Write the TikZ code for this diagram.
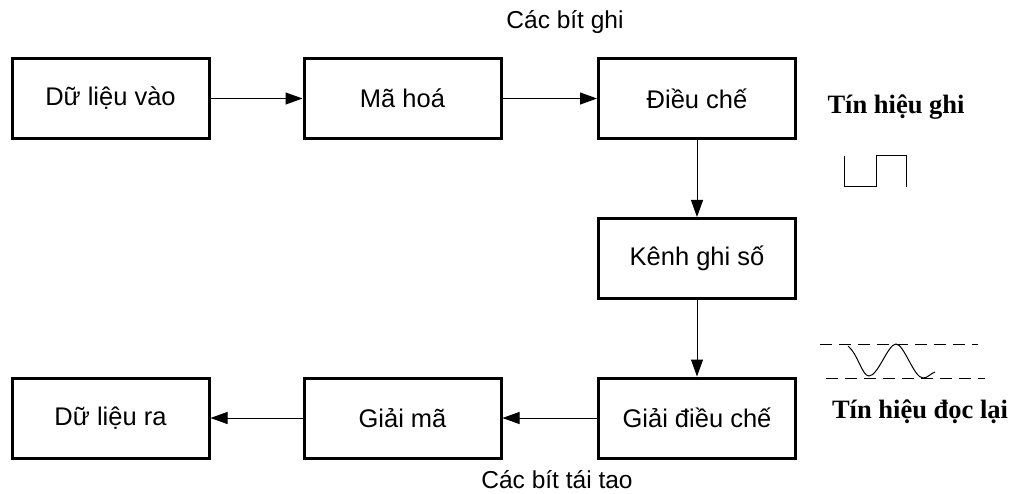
\documentclass[tikz,border=0pt]{standalone}
\usepackage{fontspec}
\setmainfont{Liberation Sans}
\newfontfamily\serifb{Liberation Serif}
\usetikzlibrary{arrows.meta}
\tikzset{
  khoi/.style={draw,line width=3pt,minimum width=197pt,minimum height=80pt,font=\fontsize{25.5}{30}\selectfont},
  mui/.style={line width=1pt,-{Triangle[length=17pt,width=12pt]}},
  nhan/.style={font=\fontsize{24.5}{29}\selectfont},
  tieude/.style={font=\serifb\bfseries\fontsize{26.5}{31}\selectfont}
}
\begin{document}
\begin{tikzpicture}[x=1pt,y=-1pt]
                \useasboundingbox (0,0) rectangle (1014,494);
                \node[khoi] (DLV) at (110.5,98.5) {Dữ liệu vào};
                \node[khoi] (MH) at (402.5,98.5) {Mã hoá};
                \node[khoi] (DC) at (697,98.5) {Điều chế};
                \node[khoi] (KGS) at (697,258.5) {Kênh ghi số};
                \node[khoi] (GDC) at (697,418) {Giải điều chế};
                \node[khoi] (GM) at (402.5,418) {Giải mã};
                \node[khoi] (DLR) at (110.5,418) {Dữ liệu ra};
                \draw[mui] (DLV) -- (MH);
                \draw[mui] (MH) -- (DC);
                \draw[mui] (DC) -- (KGS);
                \draw[mui] (KGS) -- (GDC);
                \draw[mui] (GDC) -- (GM);
                \draw[mui] (GM) -- (DLR);
                \node[nhan] (BG) at (565,22) {Các bít ghi};
                \node[nhan] (BTT) at (557,480) {Các bít tái tao};
                \node[tieude] (THG) at (896,107) {Tín hiệu ghi};
                \node[tieude] (THD) at (920,412) {Tín hiệu đọc lại};
                % tin hieu ghi
                \draw[line width=1pt] (844,156) -- (844,187) -- (876,187) -- (876,156) -- (906,156) -- (906,187);
                % tin hieu doc lai
                \draw[line width=1pt,dash pattern=on 12pt off 7pt] (820,344) -- (978,344);
                \draw[line width=1pt,dash pattern=on 12pt off 7pt] (826,378) -- (985,378);
                \draw[line width=1pt] (848,346) .. controls (858,354) and (862,376) .. (869,376)
                  .. controls (878,376) and (888,344) .. (896,344)
                  .. controls (904,344) and (914,378) .. (923,378)
                  .. controls (928,378) and (931,373) .. (935,372);
            \end{tikzpicture}
\end{document}
